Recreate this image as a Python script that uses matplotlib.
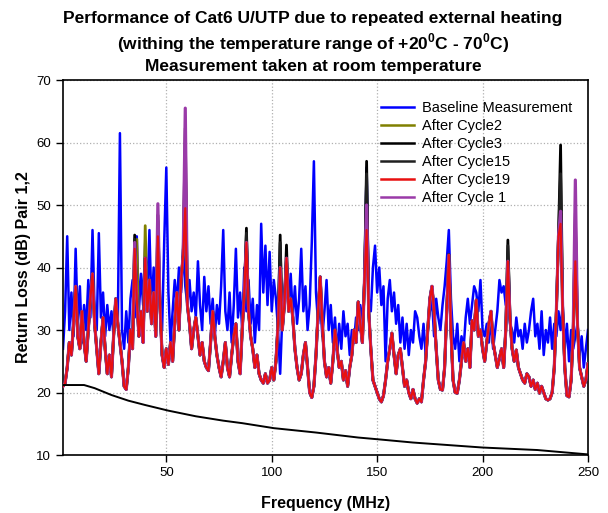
import numpy as np
import matplotlib
matplotlib.use("Agg")
import matplotlib.pyplot as plt

plt.rcParams['font.family'] = ['Liberation Sans', 'DejaVu Sans']
plt.rcParams['mathtext.fontset'] = 'custom'
plt.rcParams['mathtext.rm'] = 'Liberation Sans'
plt.rcParams['mathtext.bf'] = 'Liberation Sans:bold'

freq = np.arange(1, 251)

baseline = [
    27, 33, 45, 30, 36, 29, 43, 31, 37, 28,
    34, 30, 38, 32, 46, 33, 30, 45.5, 32, 36,
    29, 34, 30, 33, 29, 35, 31, 61.5, 30, 27,
    33, 28, 35, 38, 32, 45, 33, 39, 34, 44,
    35, 46, 33, 40, 31, 42, 35, 30, 44, 56,
    36, 28, 33, 38, 34, 40, 36, 43, 37, 34,
    38, 33, 36, 32, 41, 34, 30, 38.5, 33, 37,
    31, 35, 29, 34, 31, 37, 46, 33, 30, 36,
    28, 34, 43, 32, 36, 30, 40, 33, 38, 31,
    35, 28, 34, 30, 47, 36, 43.5, 34, 42.5, 33,
    38, 35, 30, 23, 32, 36, 41, 34, 39, 32,
    37, 31, 35, 43, 33, 37, 30, 34, 44, 57,
    36, 31, 35, 29, 33, 38, 30, 34, 28, 32,
    26, 31, 27, 33, 29, 31, 26, 30, 28, 32,
    30, 34, 31, 38, 56, 35, 33, 40, 43.5, 36,
    40, 34, 37, 25, 35, 38, 33, 36, 31, 34,
    28, 32, 27, 31, 26, 30, 28, 33, 32, 29,
    27, 31, 26, 30, 33, 35, 29, 35, 32, 30,
    34, 37, 41, 46, 35, 29, 27, 31, 25, 29,
    27, 32, 35, 31, 34, 37, 36, 33, 38, 30,
    29, 31, 28, 32, 27, 30, 33, 38, 36, 37,
    34, 38, 31, 30, 28, 32, 29, 30, 27, 31,
    28, 30, 33, 35, 29, 31, 27, 33, 26, 30,
    28, 32, 27, 31, 29, 33, 30, 34, 27, 31,
    25, 30, 27, 29, 31, 26, 29, 24, 27, 30,
]

cycle19 = [
    21, 21.5, 24, 28, 26, 31, 37, 29, 27, 33,
    28, 25, 30, 35, 39, 31, 27, 23, 28, 32,
    27, 23, 26, 22.5, 29, 35, 31, 28, 25, 21,
    20.5, 24, 30, 27, 43, 35, 29, 33, 28, 41.5,
    33, 38, 31, 36, 29, 45, 34, 26, 24, 27,
    24.5, 28, 25, 31, 36, 30, 38, 42, 49.5, 34,
    31, 27, 30, 32, 29, 26, 28, 25, 24, 23.5,
    28, 33, 29, 26, 24, 22.5, 25, 28, 24, 22.5,
    26, 29, 31, 25, 23, 30, 36, 44, 33, 29,
    27, 24, 26, 23, 22, 21.5, 23, 21.5, 22, 24,
    22, 25, 31, 40, 30, 34, 41.5, 33, 35, 32,
    27, 24, 22, 23, 26, 28, 24, 20, 19.2, 21,
    26, 33, 38.5, 31, 25, 22.5, 24, 21.5, 25, 30,
    27, 24, 25, 22, 23.5, 21, 24, 26, 30, 28,
    34.5, 31, 28, 38, 46, 33, 27, 22, 21, 20,
    19, 18.5, 19.5, 22, 25, 27, 29.5, 26, 23, 26,
    27, 24, 21, 22, 20, 19, 20.5, 19, 18.3, 19,
    18.5, 22, 25, 30, 35, 37, 33, 27, 22, 20.5,
    20.4, 24, 33, 42, 30, 22, 20, 19.9, 22, 25,
    28, 25, 27, 24, 31.5, 30, 34.8, 29, 30, 27,
    25, 28, 31, 33, 28, 26, 24, 25.5, 27, 24,
    30, 41, 32, 27, 25, 26.8, 24, 23, 22, 21.5,
    23, 22.5, 21, 22, 20.5, 21.5, 19.9, 21, 20, 19,
    18.8, 19, 20, 24, 33, 45, 47, 33, 24, 19.5,
    19.3, 22, 30, 41, 31, 24, 22.5, 21, 22, 24.6,
]

# peak values (frequency -> dB) where the other cycles differ from cycle 19
cycle2_peaks = {36: 44.5, 40: 46.7, 59: 52, 145: 49}
cycle3_peaks = {35: 45.2, 46: 48.4, 59: 62.3, 88: 46.3, 104: 45.2, 107: 43.6,
                145: 57, 184: 42.1, 212: 44.4, 237: 59.6, 244: 48.7}
cycle15_peaks = {35: 44.5, 46: 47.5, 59: 58, 88: 45.5, 104: 44, 145: 55,
                 212: 43.5, 237: 55, 244: 47}
cycle1_peaks = {35: 44, 46: 50.2, 59: 65.5, 145: 50, 237: 49, 244: 54}

limit_freq = [1, 3, 11, 16, 24, 32, 40, 51, 64, 77, 86, 101, 121, 141, 151,
              167, 200, 226, 250]
limit_db = [21.2, 21.2, 21.2, 20.7, 19.6, 18.7, 18.0, 17.1, 16.2, 15.5, 15.1,
            14.3, 13.6, 12.8, 12.5, 12.0, 11.2, 10.8, 10.1]

def with_peaks(base, peaks):
    arr = np.array(base, dtype=float)
    for f, v in peaks.items():
        arr[f - 1] = v
    return arr

cycle2 = with_peaks(cycle19, cycle2_peaks)
cycle3 = with_peaks(cycle19, cycle3_peaks)
cycle15 = with_peaks(cycle19, cycle15_peaks)
cycle1 = with_peaks(cycle19, cycle1_peaks)

fig = plt.figure(figsize=(6.08, 5.13), dpi=100)
ax = fig.add_axes([0.1036, 0.113, 0.8635, 0.731])

ax.plot(freq, baseline, color='#0000ff', lw=1.8, label='Baseline Measurement', zorder=2)
ax.plot(freq, cycle2, color='#808000', lw=2.0, label='After Cycle2', zorder=3)
ax.plot(freq, cycle3, color='black', lw=2.0, label='After Cycle3', zorder=3)
ax.plot(freq, cycle15, color='#202020', lw=2.0, label='After Cycle15', zorder=3)
ax.plot(freq, cycle19, color='#e81010', lw=1.5, label='After Cycle19', zorder=5)
ax.plot(freq, cycle1, color='#9a3aa8', lw=2.3, label='After Cycle 1', zorder=4)
ax.plot(limit_freq, limit_db, color='black', lw=1.4, zorder=6)

ax.set_xlim(1, 250)
ax.set_ylim(10, 70)
ax.set_xticks([50, 100, 150, 200, 250])
ax.set_yticks([10, 20, 30, 40, 50, 60, 70])
ax.tick_params(axis='both', labelsize=9.5, direction='out', length=5, width=1)
ax.grid(True, linestyle=':', color='#b0b0b0', lw=0.9)
ax.set_axisbelow(True)
for s in ax.spines.values():
    s.set_linewidth(1.2)

ax.set_xlabel('Frequency (MHz)', fontsize=11.5, fontweight='bold', labelpad=12)
ax.set_ylabel('Return Loss (dB) Pair 1,2', fontsize=11.5, fontweight='bold', labelpad=4)

handles, labels = ax.get_legend_handles_labels()
leg = ax.legend(handles, labels, loc='upper left', bbox_to_anchor=(0.605, 0.945),
                frameon=False, fontsize=10.5, labelspacing=0.28, handlelength=2.3,
                handletextpad=0.55, borderpad=0, borderaxespad=0)
for h in leg.get_lines():
    h.set_linewidth(1.8)

fig.text(0.515, 0.963, 'Performance of Cat6 U/UTP due to repeated external heating',
         ha='center', va='center', fontsize=12.5, fontweight='bold')
fig.text(0.515, 0.916, r'(withing the temperature range of +20$^{\mathbf{0}}$C - 70$^{\mathbf{0}}$C)',
         ha='center', va='center', fontsize=12.5, fontweight='bold')
fig.text(0.515, 0.871, 'Measurement taken at room temperature',
         ha='center', va='center', fontsize=12.5, fontweight='bold')

fig.savefig('out.png', dpi=100)
